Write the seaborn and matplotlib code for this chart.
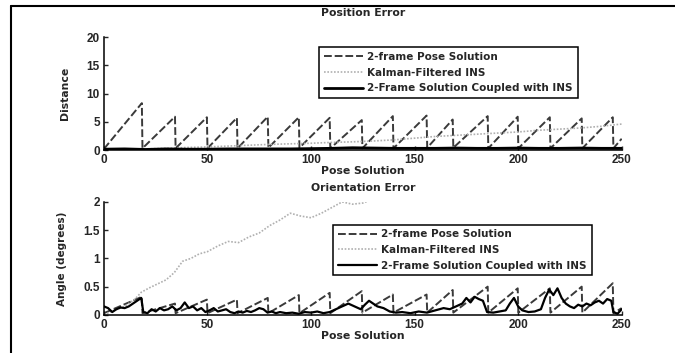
import numpy as np
import pandas as pd
import matplotlib
matplotlib.use("Agg")
import matplotlib.pyplot as plt
from matplotlib.lines import Line2D
import seaborn as sns

# --- data ---
# Position error, 2-frame pose solution (sawtooth corners)
pos_frame_x = [0, 18.3, 18.6, 34.3, 34.6, 49.7, 50.0, 64.2, 64.5, 79.1, 79.4, 94.1, 94.4,
               109.0, 109.3, 124.5, 124.8, 139.5, 139.8, 155.8, 156.1, 168.4, 168.7,
               185.3, 185.6, 199.8, 200.1, 215.3, 215.6, 230.7, 231.0, 245.7, 246.0, 250]
pos_frame_y = [0.2, 8.3, 0.3, 5.9, 0.3, 5.8, 0.3, 5.7, 0.3, 5.9, 0.4, 5.8, 0.4,
               5.7, 0.3, 5.3, 0.3, 6.0, 0.3, 6.1, 0.4, 5.4, 0.4,
               6.0, 0.3, 5.9, 0.3, 5.8, 0.3, 5.6, 0.3, 5.8, 0.3, 2.0]
# Position error, Kalman-filtered INS
pos_ins_x = [0, 10, 20, 30, 40, 50, 60, 70, 80, 90, 100, 110, 120, 130, 140, 150,
             160, 170, 180, 190, 200, 210, 220, 230, 240, 250]
pos_ins_y = [0.0, 0.1, 0.2, 0.3, 0.45, 0.55, 0.7, 0.85, 1.0, 1.1, 1.2, 1.35, 1.45, 1.6,
             1.8, 2.1, 2.4, 2.6, 2.8, 3.0, 3.2, 3.5, 3.7, 3.9, 4.2, 4.6]
# Position error, 2-frame solution coupled with INS
pos_cpl_x = [0, 10, 20, 30, 40, 50, 60, 70, 80, 90, 100, 110, 120, 130, 140, 150,
             160, 170, 180, 190, 200, 210, 220, 230, 240, 250]
pos_cpl_y = [0.15, 0.2, 0.1, 0.2, 0.15, 0.15, 0.2, 0.2, 0.2, 0.2, 0.25, 0.3, 0.4, 0.35,
             0.3, 0.3, 0.3, 0.35, 0.3, 0.3, 0.35, 0.3, 0.3, 0.35, 0.3, 0.3]

# Orientation error, 2-frame pose solution
ori_frame_x = [0, 18.3, 18.6, 34.3, 34.6, 49.7, 50.0, 64.2, 64.5, 79.1, 79.4, 94.1, 94.4,
               109.0, 109.3, 124.5, 124.8, 139.5, 139.8, 155.8, 156.1, 168.4, 168.7,
               185.3, 185.6, 199.8, 200.1, 215.3, 215.6, 230.7, 231.0, 245.7, 246.0, 250]
ori_frame_y = [0.03, 0.32, 0.03, 0.2, 0.03, 0.27, 0.03, 0.27, 0.03, 0.3, 0.03, 0.35, 0.03,
               0.39, 0.03, 0.42, 0.04, 0.36, 0.04, 0.36, 0.04, 0.44, 0.04,
               0.5, 0.04, 0.47, 0.04, 0.47, 0.04, 0.5, 0.04, 0.56, 0.03, 0.12]
# Orientation error, Kalman-filtered INS
ori_ins_x = [0, 5, 10, 15, 18, 22, 26, 30, 34, 38, 42, 46, 50, 55, 60, 65, 70, 75, 80,
             85, 90, 95, 100, 105, 110, 115, 120, 125, 130, 140, 160, 200, 250]
ori_ins_y = [0.0, 0.08, 0.15, 0.28, 0.4, 0.48, 0.55, 0.62, 0.75, 0.95, 1.0, 1.08, 1.12,
             1.22, 1.3, 1.28, 1.38, 1.45, 1.58, 1.68, 1.8, 1.75, 1.72, 1.8, 1.9, 2.0,
             1.96, 1.98, 2.05, 2.3, 2.6, 3.0, 3.5]
# Orientation error, coupled solution
ori_cpl_x = [0, 2, 4, 6, 8, 10, 12, 14, 16, 18, 19, 21, 23, 25, 27, 29, 31, 33, 35, 37,
             39, 41, 43, 45, 47, 49, 51, 53, 55, 57, 59, 61, 63, 65, 67, 69, 71, 73, 75,
             77, 79, 81, 83, 85, 88, 91, 94, 97, 100, 103, 106, 109, 112, 115, 118, 121,
             124, 126, 128, 130, 132, 135, 138, 141, 144, 148, 152, 156, 160, 164, 167,
             170, 173, 175, 177, 179, 181, 183, 185, 188, 191, 194, 196, 198, 200, 202,
             205, 208, 211, 213, 215, 217, 219, 221, 223, 225, 227, 229, 231, 233, 235,
             237, 239, 241, 243, 245, 246, 248, 250]
ori_cpl_y = [0.15, 0.12, 0.05, 0.1, 0.13, 0.12, 0.15, 0.2, 0.25, 0.3, 0.05, 0.03, 0.1,
             0.06, 0.12, 0.08, 0.1, 0.15, 0.08, 0.12, 0.22, 0.12, 0.15, 0.08, 0.12, 0.05,
             0.08, 0.12, 0.06, 0.08, 0.1, 0.05, 0.03, 0.06, 0.04, 0.07, 0.05, 0.08, 0.12,
             0.1, 0.04, 0.06, 0.03, 0.05, 0.03, 0.04, 0.02, 0.05, 0.04, 0.06, 0.03, 0.05,
             0.1, 0.15, 0.2, 0.15, 0.1, 0.18, 0.25, 0.2, 0.15, 0.12, 0.06, 0.04, 0.05,
             0.03, 0.06, 0.04, 0.08, 0.12, 0.1, 0.15, 0.2, 0.3, 0.22, 0.32, 0.28, 0.25,
             0.05, 0.04, 0.06, 0.08, 0.2, 0.3, 0.15, 0.08, 0.05, 0.06, 0.1, 0.3, 0.45,
             0.35, 0.47, 0.3, 0.2, 0.15, 0.12, 0.18, 0.15, 0.2, 0.17, 0.22, 0.25, 0.2,
             0.28, 0.25, 0.05, 0.02, 0.1]

labels = ["2-frame Pose Solution", "Kalman-Filtered INS", "2-Frame Solution Coupled with INS"]

sns.set_style("ticks")
plt.rcParams["font.family"] = ["DejaVu Sans"]
plt.rcParams["font.weight"] = "bold"
plt.rcParams["xtick.direction"] = "in"
plt.rcParams["ytick.direction"] = "in"

fig = plt.figure(figsize=(6.75, 3.53), dpi=100)
ax1 = fig.add_axes([0.154, 0.575, 0.767, 0.32])
ax2 = fig.add_axes([0.154, 0.108, 0.767, 0.32])

def draw(ax, fx, fy, ix, iy, cx, cy, cw):
    sns.lineplot(x=fx, y=fy, ax=ax, color="#3a3a3a", lw=1.4, linestyle=(0, (4, 1.5)),
                 estimator=None, sort=False, label=labels[0])
    sns.lineplot(x=ix, y=iy, ax=ax, color="#b0b0b0", lw=1.2, linestyle=(0, (1, 1)),
                 estimator=None, sort=False, label=labels[1])
    sns.lineplot(x=cx, y=cy, ax=ax, color="black", lw=cw,
                 estimator=None, sort=False, label=labels[2])

draw(ax1, pos_frame_x, pos_frame_y, pos_ins_x, pos_ins_y, pos_cpl_x, pos_cpl_y, 2.0)
draw(ax2, ori_frame_x, ori_frame_y, ori_ins_x, ori_ins_y, ori_cpl_x, ori_cpl_y, 1.6)

tick_font = {"family": "Liberation Sans", "weight": "bold", "size": 8.5}
for ax in (ax1, ax2):
    ax.set_xlim(0, 250)
    ax.set_xticks([0, 50, 100, 150, 200, 250])
    ax.tick_params(length=3, width=1, pad=3)
    sns.despine(ax=ax)
    for s in ("left", "bottom"):
        ax.spines[s].set_linewidth(1.1)
        ax.spines[s].set_color("black")

ax1.set_ylim(0, 20)
ax1.set_yticks([0, 5, 10, 15, 20])
ax1.set_yticklabels(["0", "5", "10", "15", "20"], fontdict=tick_font)
ax2.set_ylim(0, 2)
ax2.set_yticks([0, 0.5, 1, 1.5, 2])
ax2.set_yticklabels(["0", "0.5", "1", "1.5", "2"], fontdict=tick_font)
for ax in (ax1, ax2):
    ax.set_xticklabels(["0", "50", "100", "150", "200", "250"], fontdict=tick_font)

ax1.set_title("Position Error", fontsize=7.8, fontweight="bold", pad=15)
ax2.set_title("Orientation Error", fontsize=7.8, fontweight="bold", pad=8)
ax1.set_xlabel("Pose Solution", fontsize=7.8, fontweight="bold", labelpad=0)
ax2.set_xlabel("Pose Solution", fontsize=7.8, fontweight="bold", labelpad=0)
ax1.set_ylabel("Distance", fontsize=7.8, fontweight="bold")
ax2.set_ylabel("Angle (degrees)", fontsize=7.5, fontweight="bold")
ax1.yaxis.set_label_coords(-0.065, 0.5)
ax2.yaxis.set_label_coords(-0.072, 0.5)

legend_kw = dict(borderaxespad=0, fontsize=7.5, handlelength=3.8, handletextpad=0.4,
                 borderpad=0.45, labelspacing=0.55, fancybox=False, framealpha=1)
leg1 = ax1.legend(loc="upper right", bbox_to_anchor=(0.915, 0.91), **legend_kw)
leg2 = ax2.legend(loc="upper right", bbox_to_anchor=(0.942, 0.80), **legend_kw)
for leg in (leg1, leg2):
    leg.get_frame().set_edgecolor("black")
    leg.get_frame().set_linewidth(1.1)
    for t in leg.get_texts():
        t.set_fontweight("bold")

# page frame lines (top and left edge of the scanned figure)
fig.add_artist(Line2D([11 / 675, 1], [1 - 6 / 353, 1 - 6 / 353], color="black", lw=1.5,
                      transform=fig.transFigure))
fig.add_artist(Line2D([11 / 675, 11 / 675], [0, 1 - 6 / 353], color="black", lw=1.5,
                      transform=fig.transFigure))

fig.savefig("out.png", dpi=100)
